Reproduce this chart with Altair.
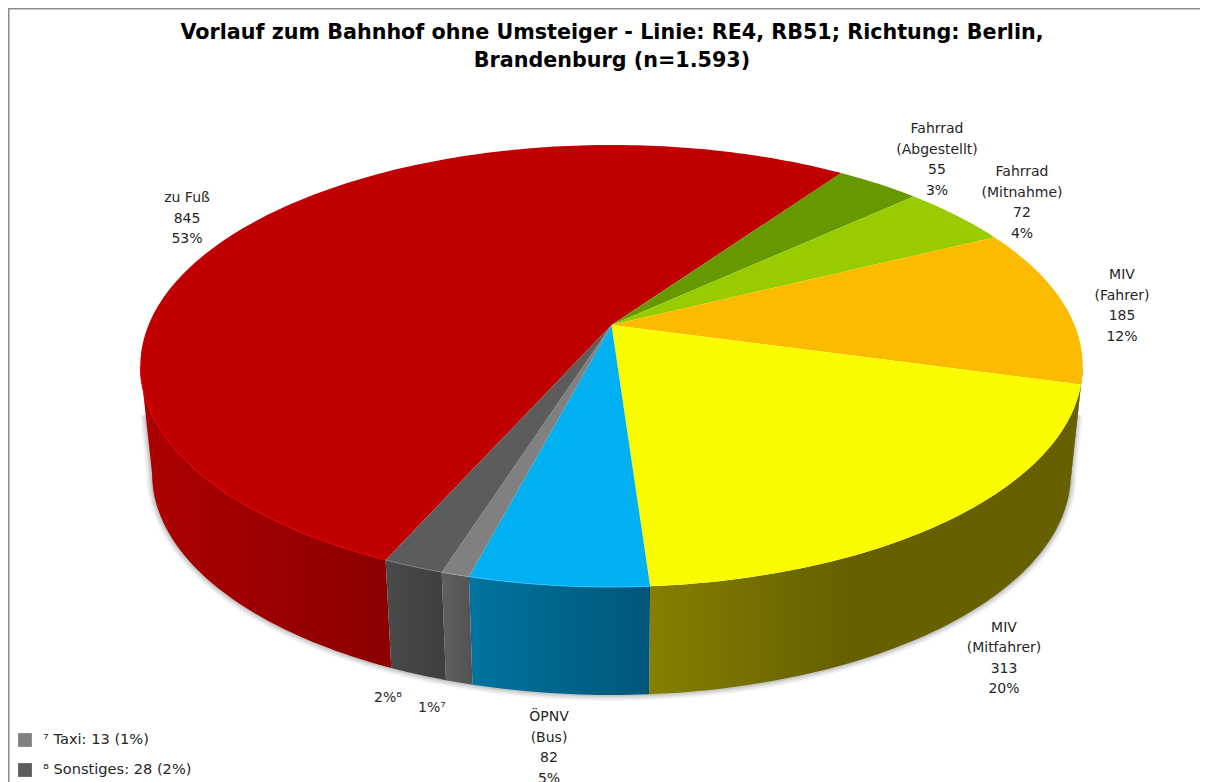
import math
import altair as alt
import pandas as pd

# --- data ---
categories = ["zu Fuß", "Fahrrad (Abgestellt)", "Fahrrad (Mitnahme)", "MIV (Fahrer)",
              "MIV (Mitfahrer)", "ÖPNV (Bus)", "Taxi", "Sonstiges"]
values = [845, 55, 72, 185, 313, 82, 13, 28]
top_colors = ["#C00000", "#669900", "#99CC00", "#FBBC00", "#FBFB00", "#00B0F0", "#808080", "#5C5C5C"]
wall_left = ["#AC0000", "#4d7300", "#739900", "#6a5000", "#858000", "#00749F", "#606060", "#4A4A4A"]
wall_right = ["#8C0000", "#4d7300", "#739900", "#6a5000", "#666000", "#00567A", "#525252", "#3E3E3E"]
label_texts = ["zu Fuß\n845\n53%", "Fahrrad\n(Abgestellt)\n55\n3%", "Fahrrad\n(Mitnahme)\n72\n4%",
               "MIV\n(Fahrer)\n185\n12%", "MIV\n(Mitfahrer)\n313\n20%", "ÖPNV\n(Bus)\n82\n5%",
               "1%⁷", "2%⁸"]
title_lines = ["Vorlauf zum Bahnhof ohne Umsteiger - Linie: RE4, RB51; Richtung: Berlin,",
               "Brandenburg (n=1.593)"]
legend_texts = ["⁷ Taxi: 13 (1%)", "⁸ Sonstiges: 28 (2%)"]
legend_colors = ["#808080", "#5C5C5C"]

# --- perspective disc geometry ---
W, H = 1192, 774
CX, CY, RX, RY = 603.5, 317.0, 463.0, 213.4   # plot-area pixels per unit of the scales
K = 0.1855
DEPTH = 108 / RY
SHRINK = 0.975
START = 203.9
FONT = "DejaVu Sans"

xdom = [-CX / RX, (W - CX) / RX]
ydom = [-(H - CY) / RY, CY / RY]
xs = alt.Scale(domain=xdom, nice=False, zero=False)
ys = alt.Scale(domain=ydom, nice=False, zero=False)


def rim(deg, lower=False):
    t = math.radians(deg)
    X, Z = math.sin(t), -math.cos(t)
    px, py = X / (1 - K * Z), Z / (1 - K * Z)
    if lower:
        px, py = px * SHRINK, py + DEPTH
    return px, -py


def inv(px, py):
    return (px - 8 - CX) / RX, -(py - 8 - CY) / RY


def arc(a, b, step=1.0):
    n = max(2, int(abs(b - a) / step) + 1)
    return [a + (b - a) * i / (n - 1) for i in range(n)]


def line_layer(points, **mark):
    df = pd.DataFrame({"x": [p[0] for p in points], "y": [p[1] for p in points],
                       "i": list(range(len(points)))})
    return alt.Chart(df).mark_line(**mark).encode(
        x=alt.X("x:Q", scale=xs, axis=None),
        y=alt.Y("y:Q", scale=ys, axis=None),
        order="i:Q",
    )


total = sum(values)
bounds = [START]
for v in values:
    bounds.append(bounds[-1] + v / total * 360)

layers = []

# side walls face the viewer between the two silhouette angles
VIS_A, VIS_B = 100.7, 259.3


def visible(idx):
    a, b = bounds[idx], bounds[idx + 1]
    out = []
    for off in (-360, 0, 360):
        lo, hi = max(a + off, VIS_A), min(b + off, VIS_B)
        if hi > lo:
            out.append((lo, hi))
    return out


# soft shadow following the lower rim
sh_path = [inv(1077, 415)] + [rim(d, True) for d in arc(VIS_A, VIS_B)] + [inv(146, 415)]
for sw, op in [(12, 0.05), (9, 0.07), (6, 0.09), (3, 0.12)]:
    layers.append(line_layer(sh_path, stroke="#404040", strokeWidth=sw, opacity=op, strokeJoin="round"))

for idx in range(len(values)):
    for lo, hi in visible(idx):
        pts = [rim(d) for d in arc(lo, hi)] + [rim(d, True) for d in arc(hi, lo)]
        stops = [alt.GradientStop(offset=0, color=wall_left[idx]),
                 alt.GradientStop(offset=0.45 if idx == 4 else 1, color=wall_right[idx]),
                 alt.GradientStop(offset=1, color=wall_right[idx])]
        grad = alt.LinearGradient(gradient="linear", x1=0, x2=1, y1=0, y2=0, stops=stops)
        layers.append(line_layer(pts, fill=grad, strokeWidth=0))

# top face
for idx in range(len(values)):
    pts = [(0.0, 0.0)] + [rim(d) for d in arc(bounds[idx], bounds[idx + 1])] + [(0.0, 0.0)]
    layers.append(line_layer(pts, fill=top_colors[idx], strokeWidth=0))

# thin lit front edge
rim_light = {0: "#E80000", 5: "#30C4FF", 6: "#A0A0A0", 7: "#808080"}
for idx, c in rim_light.items():
    for lo, hi in visible(idx):
        layers.append(line_layer([rim(d) for d in arc(lo, hi)], stroke=c, strokeWidth=1))

# labels
label_px = [(187, 191), (937, 122), (1022, 165), (1122, 268), (1004, 620.5), (549, 710), (432, 701), (388, 691)]
lab = pd.DataFrame({"t": label_texts,
                    "x": [inv(*p)[0] for p in label_px],
                    "y": [inv(*p)[1] for p in label_px]})
layers.append(alt.Chart(lab).mark_text(font=FONT, fontSize=14, color="#262626", baseline="top",
                                       align="center", lineBreak="\n", lineHeight=20.5).encode(
    x=alt.X("x:Q", scale=xs, axis=None), y=alt.Y("y:Q", scale=ys, axis=None), text="t:N"))

# footnote legend
leg = pd.DataFrame({"t": legend_texts, "c": legend_colors,
                    "y": [inv(25, 740)[1], inv(25, 770)[1]],
                    "x": [inv(25, 0)[0]] * 2, "xt": [inv(43, 0)[0]] * 2})
layers.append(alt.Chart(leg).mark_square(size=190, opacity=1, filled=True).encode(
    x=alt.X("x:Q", scale=xs, axis=None), y=alt.Y("y:Q", scale=ys, axis=None),
    color=alt.Color("c:N", scale=None, legend=None)))
layers.append(alt.Chart(leg).mark_text(font=FONT, fontSize=14.6, color="#262626", align="left",
                                       baseline="middle").encode(
    x=alt.X("xt:Q", scale=xs, axis=None), y=alt.Y("y:Q", scale=ys, axis=None), text="t:N"))

# frame on the top and left edge
fr = pd.DataFrame({"x": [xdom[0]], "x2": [xdom[1]], "y": [ydom[1]], "y2": [ydom[0]]})
layers.append(alt.Chart(fr).mark_rule(color="#8C8C8C", strokeWidth=3).encode(
    x=alt.X("x:Q", scale=xs, axis=None), x2="x2:Q", y=alt.Y("y:Q", scale=ys, axis=None)))
layers.append(alt.Chart(fr).mark_rule(color="#8C8C8C", strokeWidth=3).encode(
    x=alt.X("x:Q", scale=xs, axis=None), y=alt.Y("y:Q", scale=ys, axis=None), y2="y2:Q"))

chart = alt.layer(*layers).properties(
    width=W, height=H, padding=0,
    autosize=alt.AutoSizeParams(type="none"),
    background="white",
    title=alt.TitleParams(text=title_lines, orient="top", anchor="middle", offset=-65, dx=8,
                          font=FONT, fontSize=20.7, fontWeight="bold", color="#000000", lineHeight=28),
).configure_view(stroke=None)

chart.save("out.html", embed_options={"renderer": "svg", "actions": False})
